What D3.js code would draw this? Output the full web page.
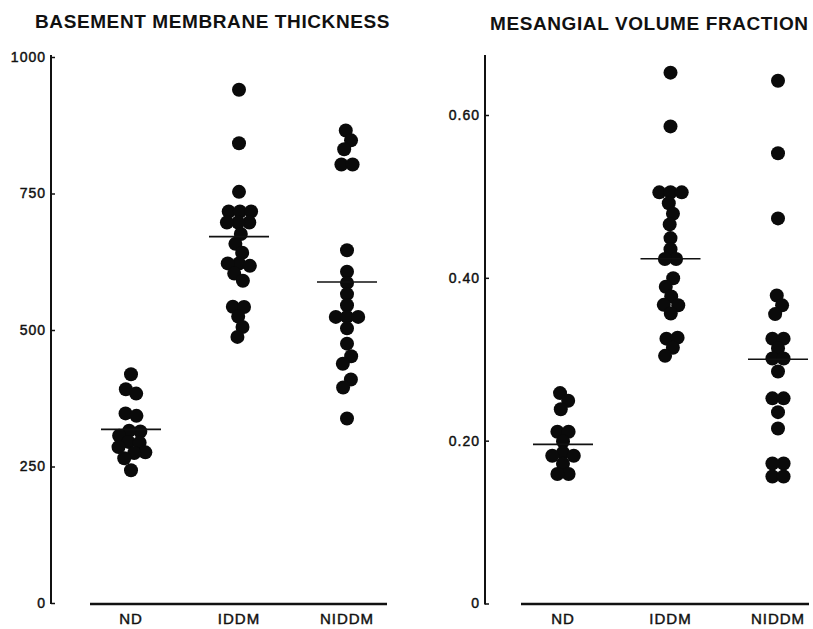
<!DOCTYPE html>
<html>
<head>
    <script src="https://d3js.org/d3.v7.min.js"></script>
    <style>
        body {
            margin: 0;
            background: #fff;
            font-family: 'Liberation Sans', Arial, sans-serif;
        }
        .title { font-size: 19px; font-weight: bold; letter-spacing: 0.6px; fill: #111; }
        .tick text { font-size: 14px; letter-spacing: 1px; fill: #111; stroke: #111; stroke-width: 0.45px; }
        .cat { font-size: 15px; letter-spacing: 1px; fill: #111; stroke: #111; stroke-width: 0.45px; }
    </style>
</head>
<body>
<div id="chart"></div>
<script>
// groups shared by both panels
const groups = ["ND", "IDDM", "NIDDM"];

// basement membrane thickness (left panel)
const gbmND = [419, 391, 384, 347, 343, 312, 312, 306, 297, 292, 287, 280, 274, 266, 243];
const gbmIDDM = [940, 842, 753, 716, 716, 716, 698, 698, 698, 675, 658, 641, 622, 622, 618, 603, 591, 542, 542, 524, 506, 488];
const gbmNIDDM = [865, 847, 832, 803, 803, 646, 606, 585, 565, 548, 524, 524, 524, 503, 475, 451, 439, 408, 396, 338];
const gbmMeans = [318, 671, 588];
const gbmTicks = [0, 250, 500, 750, 1000];

// mesangial volume fraction (right panel)
const mesND = [0.258, 0.249, 0.239, 0.210, 0.210, 0.201, 0.184, 0.182, 0.182, 0.172, 0.159, 0.159];
const mesIDDM = [0.652, 0.586, 0.505, 0.505, 0.505, 0.491, 0.479, 0.466, 0.448, 0.434, 0.424, 0.424, 0.399, 0.389, 0.377, 0.366, 0.366, 0.358, 0.325, 0.325, 0.315, 0.305];
const mesNIDDM = [0.642, 0.553, 0.473, 0.378, 0.366, 0.356, 0.325, 0.325, 0.314, 0.301, 0.301, 0.285, 0.252, 0.252, 0.235, 0.215, 0.172, 0.172, 0.156, 0.156];
const mesMeans = [0.1955, 0.4235, 0.300];
const mesTicks = [0, 0.2, 0.4, 0.6];

const width = 813, height = 629;
const r = 7;

const svg = d3.select("#chart").append("svg")
    .attr("width", width)
    .attr("height", height);

const panels = [
    {
        title: "BASEMENT MEMBRANE THICKNESS", titleX: 35, titleY: 28,
        series: [gbmND, gbmIDDM, gbmNIDDM], means: gbmMeans, ticks: gbmTicks,
        fmt: d => String(d),
        y: d3.scaleLinear().domain([0, 1000]).range([603, 57]),
        axisX: 51, base: [90, 387], centers: [131, 347]
    },
    {
        title: "MESANGIAL VOLUME FRACTION", titleX: 490, titleY: 30,
        series: [mesND, mesIDDM, mesNIDDM], means: mesMeans, ticks: mesTicks,
        fmt: d => d === 0 ? "0" : d3.format(".2f")(d),
        y: d3.scaleLinear().domain([0, 0.6]).range([603.5, 115]),
        axisX: 485, base: [521, 809], centers: [563, 778]
    }
];

// simple beeswarm: keep y on the value, push dots sideways when they collide
function swarm(values, cx, y) {
    const nodes = values.map(v => ({ v, x: cx, y: y(v) }));
    d3.forceSimulation(nodes)
        .force("x", d3.forceX(cx).strength(0.12))
        .force("y", d3.forceY(d => y(d.v)).strength(1))
        .force("collide", d3.forceCollide(5.6))
        .stop()
        .tick(300);
    return nodes;
}

panels.forEach(p => {
    const g = svg.append("g");
    const x = d3.scalePoint().domain(groups).range(p.centers);

    g.append("text")
        .attr("class", "title")
        .attr("x", p.titleX)
        .attr("y", p.titleY)
        .text(p.title);

    // y axis, ticks pointing inward
    const yAxis = d3.axisLeft(p.y)
        .tickValues(p.ticks)
        .tickFormat(p.fmt)
        .tickSize(-4)
        .tickPadding(6);

    const ax = g.append("g")
        .attr("transform", `translate(${p.axisX},0)`)
        .call(yAxis);
    ax.select(".domain").remove();
    ax.selectAll(".tick line").attr("stroke", "#111").attr("stroke-width", 1.5);
    ax.selectAll(".tick text").attr("x", -5);

    g.append("line")
        .attr("x1", p.axisX).attr("x2", p.axisX)
        .attr("y1", p.y(0) + 1).attr("y2", 55)
        .attr("stroke", "#111").attr("stroke-width", 2);

    // baseline under the groups
    g.append("line")
        .attr("x1", p.base[0]).attr("x2", p.base[1])
        .attr("y1", 604).attr("y2", 604)
        .attr("stroke", "#111").attr("stroke-width", 2.5);

    g.selectAll(".cat")
        .data(groups)
        .join("text")
        .attr("class", "cat")
        .attr("x", d => x(d))
        .attr("y", 624)
        .attr("text-anchor", "middle")
        .text(d => d);

    // dots
    p.series.forEach((vals, i) => {
        const nodes = swarm(vals, x(groups[i]), p.y);
        g.append("g")
            .selectAll("circle")
            .data(nodes)
            .join("circle")
            .attr("cx", d => d.x)
            .attr("cy", d => d.y)
            .attr("r", r)
            .attr("fill", "#0a0a0a");
    });

    // mean bars
    g.selectAll(".mean")
        .data(p.means)
        .join("line")
        .attr("class", "mean")
        .attr("x1", (d, i) => x(groups[i]) - 30)
        .attr("x2", (d, i) => x(groups[i]) + 30)
        .attr("y1", d => p.y(d))
        .attr("y2", d => p.y(d))
        .attr("stroke", "#111")
        .attr("stroke-width", 1.6);
});
</script>
</body>
</html>
